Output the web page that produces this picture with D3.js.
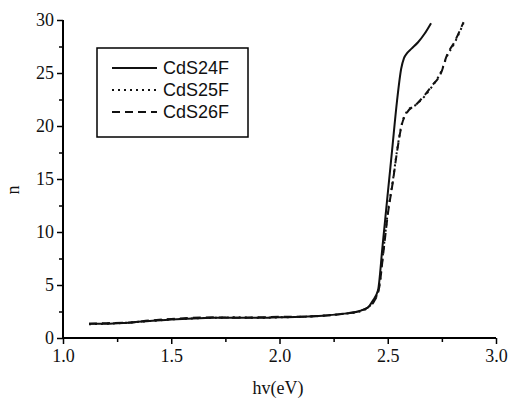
<!DOCTYPE html>
<html><head><meta charset="utf-8">
<script src="https://cdn.jsdelivr.net/npm/d3@7"></script>
<style>body{margin:0;background:#fff}svg{display:block}</style>
</head><body>
<script>
// Data
const seriesNames = ["CdS24F", "CdS25F", "CdS26F"];
const energy24 = [1.12,1.2,1.3,1.4,1.5,1.6,1.7,1.8,1.9,2.0,2.1,2.2,2.3,2.37,2.41,2.43,2.455,2.476,2.497,2.52,2.543,2.562,2.575,2.59,2.61,2.64,2.67,2.70];
const n24      = [1.35,1.35,1.45,1.6,1.75,1.85,1.9,1.9,1.9,1.95,2.0,2.1,2.3,2.55,2.9,3.5,4.5,8.7,13.0,17.7,22.4,25.4,26.4,26.9,27.3,27.9,28.7,29.7];
const energy25 = [1.12,1.2,1.3,1.4,1.5,1.6,1.7,1.8,1.9,2.0,2.1,2.2,2.3,2.37,2.41,2.435,2.46,2.48,2.50,2.524,2.543,2.566,2.59,2.63,2.67,2.70,2.75,2.77,2.81,2.85];
const n25      = [1.3,1.35,1.45,1.6,1.75,1.85,1.9,1.95,1.9,1.95,2.0,2.1,2.3,2.5,2.9,3.5,4.8,8.3,11.8,14.9,17.7,20.3,21.4,22.0,22.8,23.6,25.3,26.4,27.9,29.7];
const energy26 = [1.12,1.2,1.3,1.4,1.5,1.6,1.7,1.8,1.9,2.0,2.1,2.2,2.3,2.37,2.41,2.435,2.46,2.48,2.50,2.524,2.543,2.566,2.59,2.63,2.67,2.70,2.75,2.77,2.81,2.85];
const n26      = [1.35,1.4,1.45,1.65,1.8,1.9,1.95,1.9,1.95,2.0,2.0,2.1,2.3,2.55,2.9,3.4,4.7,8.1,11.6,14.8,17.6,20.2,21.3,22.0,22.9,23.7,25.2,26.5,28.0,29.8];
const xTicks = [1.0, 1.5, 2.0, 2.5, 3.0];
const yTicks = [0, 5, 10, 15, 20, 25, 30];
const xLabel = "hv(eV)";
const yLabel = "n";

const W = 509, H = 398;
const svg = d3.select("body").append("svg").attr("width", W).attr("height", H);
const x = d3.scaleLinear().domain([1.0, 3.0]).range([63, 496]);
const y = d3.scaleLinear().domain([0, 30]).range([338, 20]);

const serif = "'Liberation Serif','Times New Roman',serif";
const sans = "'Liberation Sans',Arial,sans-serif";

// minor ticks
const xMinor = d3.range(1.25, 3.0, 0.5);
const yMinor = d3.range(2.5, 30, 5);
const xAxisG = svg.append("g").attr("transform", "translate(0,338)");
xAxisG.call(d3.axisBottom(x).tickValues(xMinor).tickSize(4).tickFormat(""));
xAxisG.append("g").call(d3.axisBottom(x).tickValues(xTicks).tickSize(6).tickPadding(5).tickFormat(d3.format(".1f")));
const yAxisG = svg.append("g").attr("transform", "translate(63,0)");
yAxisG.call(d3.axisLeft(y).tickValues(yMinor).tickSize(4).tickFormat(""));
yAxisG.append("g").call(d3.axisLeft(y).tickValues(yTicks).tickSize(6).tickPadding(3).tickFormat(d3.format("d")));
svg.selectAll(".domain").attr("stroke", "#000").attr("stroke-width", 2);
svg.selectAll(".tick line").attr("stroke", "#000").attr("stroke-width", 1.5);
svg.selectAll(".tick text").attr("font-family", serif).attr("font-size", 18).attr("fill", "#111");
xAxisG.selectAll("path.domain").attr("d", `M${x.range()[0]},0H${x.range()[1]}`);
yAxisG.selectAll("path.domain").attr("d", `M0,${y.range()[0]}V${y.range()[1]}`);

// axis titles
svg.append("text").attr("x", 278).attr("y", 394).attr("text-anchor", "middle")
  .attr("font-family", serif).attr("font-size", 18).attr("fill", "#111").text(xLabel);
svg.append("text").attr("transform", "translate(19,190) rotate(-90)").attr("text-anchor", "middle")
  .attr("font-family", serif).attr("font-size", 18).attr("fill", "#111").text(yLabel);

// lines
const line = d3.line().x(d => x(d[0])).y(d => y(d[1])).curve(d3.curveMonotoneX);
const series = [
  {name: seriesNames[0], xs: energy24, ys: n24, dash: null},
  {name: seriesNames[1], xs: energy25, ys: n25, dash: "2,4"},
  {name: seriesNames[2], xs: energy26, ys: n26, dash: "8,5"}
];
series.forEach(s => {
  svg.append("path").datum(s.xs.map((v, i) => [v, s.ys[i]]))
    .attr("d", line).attr("fill", "none").attr("stroke", "#111")
    .attr("stroke-width", 2).attr("stroke-dasharray", s.dash);
});

// legend
const lg = svg.append("g");
lg.append("rect").attr("x", 97).attr("y", 48).attr("width", 151).attr("height", 89)
  .attr("fill", "#fff").attr("stroke", "#000").attr("stroke-width", 1.5);
series.forEach((s, i) => {
  const yy = 68 + i * 22;
  lg.append("line").attr("x1", 112).attr("x2", 157).attr("y1", yy).attr("y2", yy)
    .attr("stroke", "#111").attr("stroke-width", 2).attr("stroke-dasharray", s.dash);
  lg.append("text").attr("x", 163).attr("y", yy + 6).attr("font-family", sans)
    .attr("font-size", 18).attr("fill", "#111").text(s.name);
});
</script>
</body></html>
